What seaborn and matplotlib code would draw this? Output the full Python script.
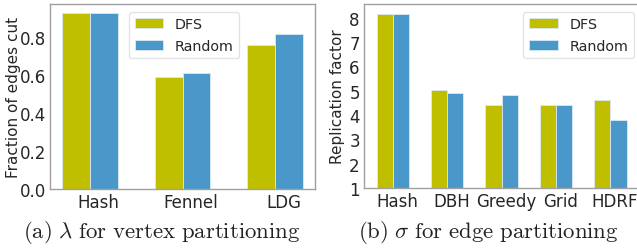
import numpy as np
import pandas as pd
import matplotlib
matplotlib.use("Agg")
import matplotlib.pyplot as plt
import seaborn as sns

# data
orders = ["DFS", "Random"]
vertex_methods = ["Hash", "Fennel", "LDG"]
vertex_dfs = [0.93, 0.59, 0.76]
vertex_random = [0.93, 0.61, 0.82]

edge_methods = ["Hash", "DBH", "Greedy", "Grid", "HDRF"]
edge_dfs = [8.15, 5.02, 4.42, 4.42, 4.60]
edge_random = [8.15, 4.90, 4.81, 4.42, 3.78]

colors = {"DFS": "#bfbf00", "Random": "#4a98c9"}

sns.set_style("white")
plt.rcParams["font.family"] = ["DejaVu Sans"]
plt.rcParams["mathtext.fontset"] = "cm"


def make_df(methods, dfs, rnd):
    return pd.DataFrame({
        "method": methods * 2,
        "order": ["DFS"] * len(methods) + ["Random"] * len(methods),
        "value": list(dfs) + list(rnd),
    })


fig = plt.figure(figsize=(6.37, 2.51), dpi=100)
ax1 = fig.add_axes([50 / 637, 61 / 251, 265 / 637, 185 / 251])
ax2 = fig.add_axes([364 / 637, 62 / 251, 275 / 637, 184 / 251])

panels = [
    (ax1, make_df(vertex_methods, vertex_dfs, vertex_random), vertex_methods,
     "Fraction of edges cut", (0, 0.9765), [0, 0.2, 0.4, 0.6, 0.8], (0.298, 0.958), "upper left"),
    (ax2, make_df(edge_methods, edge_dfs, edge_random), edge_methods,
     "Replication factor", (1, 8.56), list(range(1, 9)), (0.981, 0.958), "upper right"),
]

for ax, df, methods, ylabel, ylim, yticks, anchor, loc in panels:
    sns.barplot(data=df, x="method", y="value", hue="order", hue_order=orders,
                palette=colors, width=0.6, saturation=1, ax=ax,
                edgecolor="#dbe9f2", linewidth=0.6)
    n = len(methods)
    ax.set_xlim(-0.3 - 0.05 * (n - 0.4), n - 0.7 + 0.05 * (n - 0.4))
    ax.set_ylim(*ylim)
    ax.set_yticks(yticks)
    if ylim[1] < 2:
        ax.set_yticklabels([f"{t:.1f}" for t in yticks])
    ax.set_xticks(np.arange(n) + 0.09)
    ax.set_xticklabels(methods)
    ax.tick_params(axis="both", labelsize=12, length=0, pad=3)
    ax.set_xlabel("")
    ax.set_ylabel(ylabel, fontsize=11)
    for s in ax.spines.values():
        s.set_color("#a0a0a0")
        s.set_linewidth(1.0)
    ax.legend(loc=loc, bbox_to_anchor=anchor, borderaxespad=0, fontsize=10.3,
              frameon=True, edgecolor="#dddddd", title=None)

ax1.yaxis.set_label_coords(-0.11, 0.5)
ax2.yaxis.set_label_coords(-0.069, 0.5)

fig.text(161.5 / 637, 1 - 233 / 251, r"$\mathrm{(a)}\ \lambda\ \mathrm{for\ vertex\ partitioning}$",
         ha="center", va="center", fontsize=16.4, color="#222222")
fig.text(488.7 / 637, 1 - 233 / 251, r"$\mathrm{(b)}\ \sigma\ \mathrm{for\ edge\ partitioning}$",
         ha="center", va="center", fontsize=16.4, color="#222222")

fig.savefig("out.png", dpi=100)
